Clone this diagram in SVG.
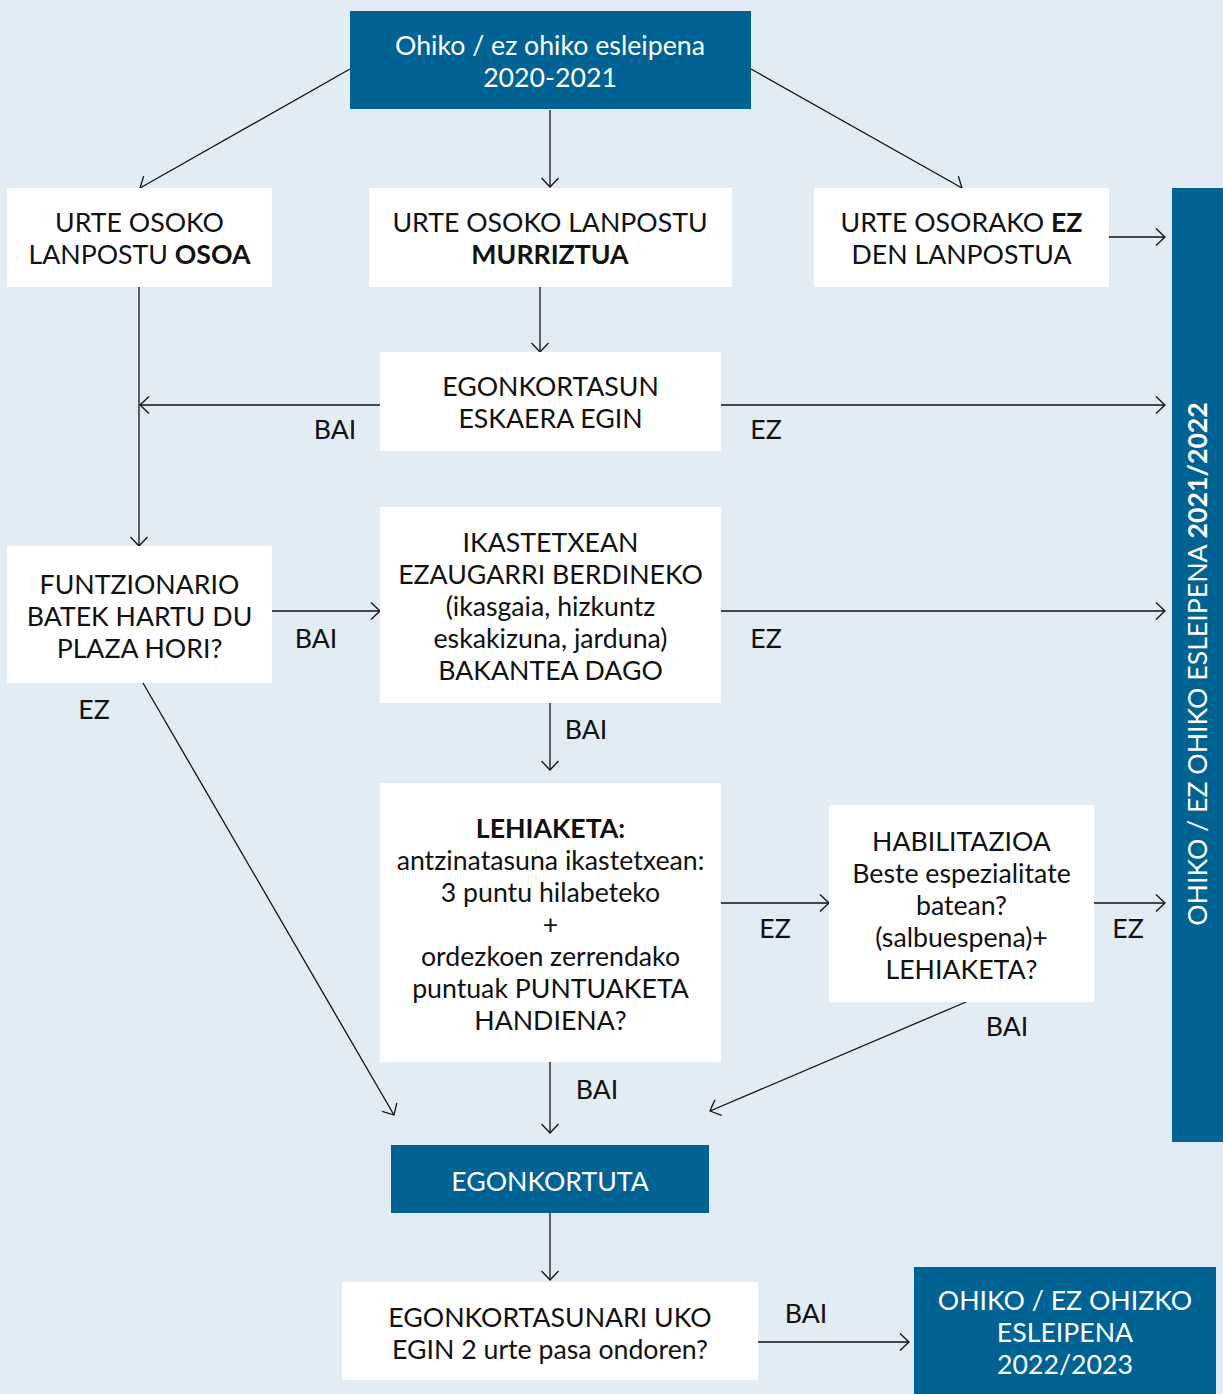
<svg xmlns="http://www.w3.org/2000/svg" width="1223" height="1394" viewBox="0 0 1223 1394">
<defs>
<style>
text{font-family:Lato,"Open Sans","Liberation Sans",sans-serif;font-size:26.7px;fill:#111;text-anchor:middle}
.w{fill:#ffffff}
.b{font-weight:bold}
rect.n{fill:#ffffff}
rect.d{fill:#006394}
.c line{stroke:#111;stroke-width:1.3;fill:none;marker-end:url(#ah)}
</style>
<marker id="ah" markerUnits="userSpaceOnUse" markerWidth="20" markerHeight="20" refX="9" refY="8.5" orient="auto" overflow="visible">
<path d="M0,0 L9,8.5 L0,17" fill="none" stroke="#111" stroke-width="1.3"/>
</marker>
</defs>
<rect width="1223" height="1394" fill="#e2ecf5"/>

<g class="c" id="connectors">
<line x1="350" y1="69" x2="140" y2="188"/>
<line x1="550" y1="110" x2="550" y2="187"/>
<line x1="751" y1="69" x2="962" y2="188"/>
<line x1="1109" y1="237" x2="1165" y2="237"/>
<line x1="139" y1="287" x2="139" y2="546"/>
<line x1="540" y1="287" x2="540" y2="352"/>
<line x1="380" y1="405" x2="140" y2="405"/>
<line x1="721" y1="405" x2="1165" y2="405"/>
<line x1="272" y1="611" x2="380" y2="611"/>
<line x1="721" y1="611" x2="1165" y2="611"/>
<line x1="550" y1="703" x2="550" y2="770"/>
<line x1="143" y1="683" x2="394" y2="1115"/>
<line x1="721" y1="903" x2="829" y2="903"/>
<line x1="1094" y1="903" x2="1165" y2="903"/>
<line x1="966" y1="1002" x2="710" y2="1111"/>
<line x1="550" y1="1062" x2="550" y2="1133"/>
<line x1="550" y1="1213" x2="550" y2="1280"/>
<line x1="758" y1="1342" x2="909" y2="1342"/>
</g>

<g id="labels">
<text x="335" y="439">BAI</text>
<text x="766" y="439">EZ</text>
<text x="316" y="648">BAI</text>
<text x="766" y="648">EZ</text>
<text x="94" y="719">EZ</text>
<text x="586" y="739">BAI</text>
<text x="775" y="938">EZ</text>
<text x="1128" y="938">EZ</text>
<text x="1007" y="1036">BAI</text>
<text x="597" y="1099">BAI</text>
<text x="806" y="1323">BAI</text>
</g>

<g id="start">
<rect class="d" x="350" y="11" width="401" height="98"/>
<text class="w" x="550" y="55">Ohiko / ez ohiko esleipena</text>
<text class="w" x="550" y="87">2020-2021</text>
</g>

<g id="osoa">
<rect class="n" x="7" y="188" width="265" height="99"/>
<text x="139.5" y="232">URTE OSOKO</text>
<text x="139.5" y="264">LANPOSTU <tspan class="b">OSOA</tspan></text>
</g>

<g id="murriztua">
<rect class="n" x="369" y="188" width="363" height="99"/>
<text x="550" y="232">URTE OSOKO LANPOSTU</text>
<text x="550" y="264" class="b">MURRIZTUA</text>
</g>

<g id="ez-osorako">
<rect class="n" x="814" y="188" width="295" height="99"/>
<text x="961.5" y="232">URTE OSORAKO <tspan class="b">EZ</tspan></text>
<text x="961.5" y="264">DEN LANPOSTUA</text>
</g>

<g id="side-bar">
<rect class="d" x="1172" y="188" width="51" height="954"/>
<text class="w" transform="translate(1207 664) rotate(-90)" x="0" y="0">OHIKO / EZ OHIKO ESLEIPENA <tspan class="b">2021/2022</tspan></text>
</g>

<g id="eskaera">
<rect class="n" x="380" y="352" width="341" height="99"/>
<text x="550.5" y="396">EGONKORTASUN</text>
<text x="550.5" y="428">ESKAERA EGIN</text>
</g>

<g id="funtzionario">
<rect class="n" x="7" y="546" width="265" height="137"/>
<text x="139.5" y="594">FUNTZIONARIO</text>
<text x="139.5" y="626">BATEK HARTU DU</text>
<text x="139.5" y="658">PLAZA HORI?</text>
</g>

<g id="bakantea">
<rect class="n" x="380" y="507" width="341" height="196"/>
<text x="550.5" y="552">IKASTETXEAN</text>
<text x="550.5" y="584">EZAUGARRI BERDINEKO</text>
<text x="550.5" y="616">(ikasgaia, hizkuntz</text>
<text x="550.5" y="648">eskakizuna, jarduna)</text>
<text x="550.5" y="680">BAKANTEA DAGO</text>
</g>

<g id="lehiaketa">
<rect class="n" x="380" y="783" width="341" height="279"/>
<text x="550.5" y="838" class="b">LEHIAKETA:</text>
<text x="550.5" y="870">antzinatasuna ikastetxean:</text>
<text x="550.5" y="902">3 puntu hilabeteko</text>
<text x="550.5" y="934">+</text>
<text x="550.5" y="966">ordezkoen zerrendako</text>
<text x="550.5" y="998">puntuak PUNTUAKETA</text>
<text x="550.5" y="1030">HANDIENA?</text>
</g>

<g id="habilitazioa">
<rect class="n" x="829" y="805" width="265" height="197"/>
<text x="961.5" y="851">HABILITAZIOA</text>
<text x="961.5" y="883">Beste espezialitate</text>
<text x="961.5" y="915">batean?</text>
<text x="961.5" y="947">(salbuespena)+</text>
<text x="961.5" y="979">LEHIAKETA?</text>
</g>

<g id="egonkortuta">
<rect class="d" x="391" y="1145" width="318" height="68"/>
<text class="w" x="550" y="1191">EGONKORTUTA</text>
</g>

<g id="uko">
<rect class="n" x="342" y="1282" width="416" height="98"/>
<text x="550" y="1327">EGONKORTASUNARI UKO</text>
<text x="550" y="1359">EGIN 2 urte pasa ondoren?</text>
</g>

<g id="final">
<rect class="d" x="914" y="1267" width="302" height="127"/>
<text class="w" x="1065" y="1310">OHIKO / EZ OHIZKO</text>
<text class="w" x="1065" y="1342">ESLEIPENA</text>
<text class="w" x="1065" y="1374">2022/2023</text>
</g>
</svg>
